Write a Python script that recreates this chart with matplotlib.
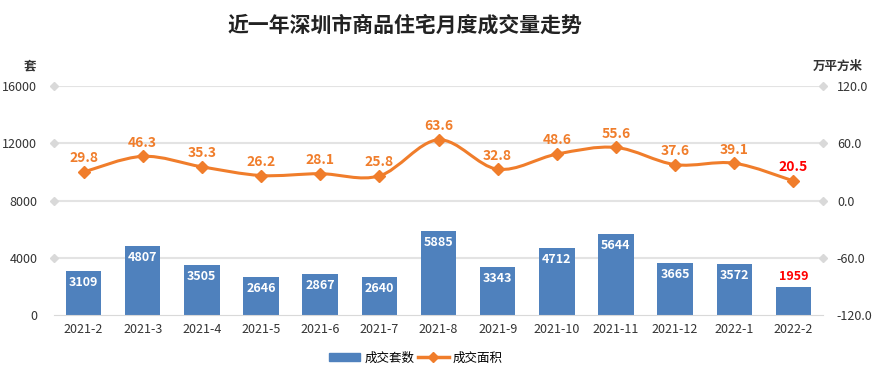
import numpy as np
import matplotlib
matplotlib.use('Agg')
import matplotlib.pyplot as plt
from matplotlib.path import Path
from matplotlib.patches import PathPatch, Patch
from matplotlib.lines import Line2D

plt.rcParams['font.family'] = ['Noto Sans CJK SC', 'DejaVu Sans']

months = ['2021-2', '2021-3', '2021-4', '2021-5', '2021-6', '2021-7', '2021-8',
          '2021-9', '2021-10', '2021-11', '2021-12', '2022-1', '2022-2']
units = [3109, 4807, 3505, 2646, 2867, 2640, 5885, 3343, 4712, 5644, 3665, 3572, 1959]
area = [29.8, 46.3, 35.3, 26.2, 28.1, 25.8, 63.6, 32.8, 48.6, 55.6, 37.6, 39.1, 20.5]

blue = '#4F81BD'
orange = '#F07D2B'
grid_c = '#E3E3E3'
text_c = '#333333'

fig = plt.figure(figsize=(8.87, 3.75), dpi=100)
ax = fig.add_axes([54 / 887, 1 - 315 / 375, (823 - 54) / 887, (315 - 86) / 375])
ax2 = ax.twinx()

x = np.arange(len(months))
ax.bar(x, units, width=0.6, color=blue, zorder=2)
ax.set_xlim(-0.5, len(months) - 0.5)
ax.set_ylim(0, 16000)
ax.set_yticks([0, 4000, 8000, 12000, 16000])
ax.set_xticks(x)
ax.set_xticklabels(months)
ax.tick_params(axis='both', length=0, labelsize=9, colors=text_c)
ax.tick_params(axis='y', pad=12)
ax.tick_params(axis='x', pad=6)
for s in ['top', 'left', 'right']:
    ax.spines[s].set_visible(False)
ax.spines['bottom'].set_color('#D9D9D9')
for gy in [4000, 8000, 12000, 16000]:
    ax.axhline(gy, color=grid_c, lw=1.5, zorder=0)
    ax.plot([-0.5, len(months) - 0.5], [gy, gy], ls='none', marker='D', ms=4,
            color='#D9D9D9', clip_on=False, zorder=1)

for i, v in enumerate(units):
    if i == len(units) - 1:
        ax.text(i, v + 250, str(v), ha='center', va='bottom', color='#FF0000',
                fontsize=9, fontweight='bold')
    else:
        ax.text(i, v - 350, str(v), ha='center', va='top', color='white',
                fontsize=9, fontweight='bold')

ax2.set_ylim(-120, 120)
ax2.set_yticks([-120, -60, 0, 60, 120])
ax2.set_yticklabels(['%.1f' % t for t in [-120, -60, 0, 60, 120]])
ax2.tick_params(axis='y', length=0, labelsize=9, colors=text_c, pad=10)
for s in ['top', 'left', 'right', 'bottom']:
    ax2.spines[s].set_visible(False)

# smooth line like the spreadsheet chart
pts = np.column_stack([x, area]).astype(float)
n = len(pts)
verts = [pts[0]]
codes = [Path.MOVETO]
for i in range(n - 1):
    p0 = pts[i - 1] if i > 0 else pts[i]
    p1 = pts[i]
    p2 = pts[i + 1]
    p3 = pts[i + 2] if i + 2 < n else pts[i + 1]
    c1 = p1 + (p2 - p0) / 6
    c2 = p2 - (p3 - p1) / 6
    verts += [c1, c2, p2]
    codes += [Path.CURVE4] * 3
ax2.add_patch(PathPatch(Path(verts, codes), fill=False, ec=orange, lw=2.2, zorder=3))
ax2.plot(x, area, ls='none', marker='D', ms=6, color=orange, zorder=4)

for i, v in enumerate(area):
    c = '#FF0000' if i == len(area) - 1 else orange
    ax2.text(i, v + 7, '%.1f' % v, ha='center', va='bottom', color=c,
             fontsize=10, fontweight='bold')

fig.text(405 / 887, 1 - 25 / 375, '近一年深圳市商品住宅月度成交量走势', ha='center', va='center',
         fontsize=15, fontweight='heavy', color='#222222')
fig.text(30 / 887, 1 - 66 / 375, '套', ha='center', va='center', fontsize=9,
         fontweight='bold', color=text_c)
fig.text(838 / 887, 1 - 66 / 375, '万平方米', ha='center', va='center', fontsize=9,
         fontweight='bold', color=text_c)

handles = [Patch(color=blue, label='成交套数'),
           Line2D([], [], color=orange, lw=2.5, marker='D', ms=5, label='成交面积')]
fig.legend(handles=handles, loc='center', bbox_to_anchor=(416 / 887, 1 - 358 / 375),
           ncol=2, frameon=False, fontsize=9, handlelength=2.5, columnspacing=0.3,
           handletextpad=0.3, handleheight=0.6)

fig.savefig('out.png', dpi=100)
